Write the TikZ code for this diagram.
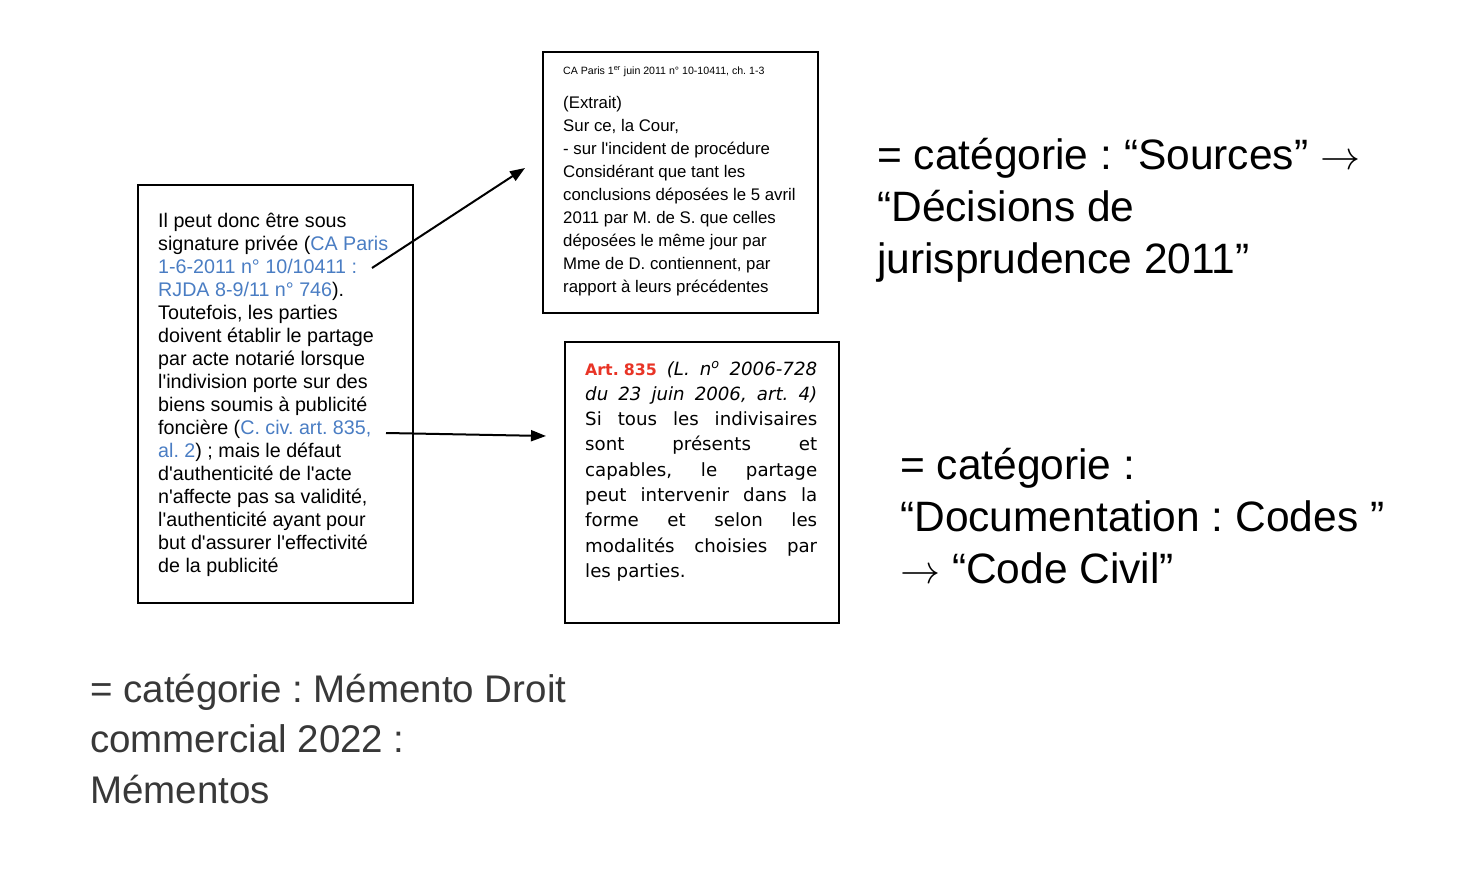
\documentclass[tikz,border=0pt]{standalone}
\usepackage{fontspec}
\usepackage{graphicx}
\setmainfont{Liberation Sans}[Ligatures=TeXOff]
\newfontfamily\djv{DejaVu Sans}[Ligatures=TeXOff]
\usetikzlibrary{arrows.meta}
\definecolor{linkblue}{RGB}{74,125,195}
\definecolor{artred}{RGB}{232,52,38}
\definecolor{graytext}{RGB}{56,56,56}
\frenchspacing
\tikzset{
  boxst/.style={draw=black, line width=2pt, anchor=north west, inner sep=0pt},
  txt/.style={anchor=base west, inner sep=0pt, align=left},
  conn/.style={line width=2pt, -{Triangle[length=15pt,width=11pt]}},
}
\newcommand{\lk}[1]{\textcolor{linkblue}{#1}}
\newcommand{\jl}[1]{\makebox[232pt][s]{#1}}
\newcommand{\rarr}{\resizebox{40pt}{!}{$\rightarrow$}}
\begin{document}
\begin{tikzpicture}[x=1pt,y=-1pt]
\useasboundingbox (0,0) rectangle (1472,874);
% boxes
\node[boxst, minimum width=275pt, minimum height=261pt] (topbox) at (542,51) {};
\node[boxst, minimum width=275pt, minimum height=418pt] (leftbox) at (137,184) {};
\node[boxst, minimum width=274pt, minimum height=281pt] (midbox) at (564,341) {};
% top box text (base anchor = last line)
\node[txt, font=\fontsize{10.6}{12}\selectfont] (tophead) at (563,74.5)
  {CA Paris 1\textsuperscript{er} juin 2011 n° 10-10411, ch. 1-3};
\node[txt, font=\fontsize{16.8}{23}\selectfont] (toptext) at (563,293)
  {(Extrait)\\
   Sur ce, la Cour,\\
   - sur l'incident de procédure\\
   Considérant que tant les\\
   conclusions déposées le 5 avril\\
   2011 par M. de S. que celles\\
   déposées le même jour par\\
   Mme de D. contiennent, par\\
   rapport à leurs précédentes};
% left box text
\node[txt, font=\fontsize{19.7}{23}\selectfont] (lefttext) at (158,572)
  {Il peut donc être sous\\
   signature privée (\lk{CA Paris}\\
   \lk{1-6-2011 n° 10/10411 :}\\
   \lk{RJDA 8-9/11 n° 746}).\\
   Toutefois, les parties\\
   doivent établir le partage\\
   par acte notarié lorsque\\
   l'indivision porte sur des\\
   biens soumis à publicité\\
   foncière (\lk{C. civ. art. 835,}\\
   \lk{al. 2}) ; mais le défaut\\
   d'authenticité de l'acte\\
   n'affecte pas sa validité,\\
   l'authenticité ayant pour\\
   but d'assurer l'effectivité\\
   de la publicité};
% middle box text
\node[txt, font=\djv\fontsize{18.2}{25.3}\selectfont] (midtext) at (585,577.4)
  {\jl{{\fontsize{15.8}{25.3}\selectfont\color{artred}\bfseries Art.\hspace{0.32em}835} \textit{(L. n\textsuperscript{o} 2006-728}}\\
   \jl{\textit{du 23 juin 2006, art. 4)}}\\
   \jl{Si tous les indivisaires}\\
   \jl{sont présents et}\\
   \jl{capables, le partage}\\
   \jl{peut intervenir dans la}\\
   \jl{forme et selon les}\\
   \jl{modalités choisies par}\\
   les parties.};
% right labels
\node[txt, font=\fontsize{42.5}{52}\selectfont] (catsrc) at (877,274)
  {= catégorie : “Sources” \rarr\\
   “Décisions de\\
   jurisprudence 2011”};
\node[txt, font=\fontsize{42.5}{52}\selectfont] (catcode) at (900,583)
  {= catégorie :\\
   “Documentation : Codes ”\\
   \rarr{} “Code Civil”};
\node[txt, font=\fontsize{38.5}{50.5}\selectfont, text=graytext] (catmem) at (90,803)
  {= catégorie : Mémento Droit\\
   commercial 2022 :\\
   Mémentos};
% connectors
\coordinate (a1s) at (372,268);
\coordinate (a1e) at (525,168);
\coordinate (a2s) at (386,433);
\coordinate (a2e) at (546,436);
\draw[conn] (a1s) -- (a1e);
\draw[conn] (a2s) -- (a2e);
\end{tikzpicture}
\end{document}
